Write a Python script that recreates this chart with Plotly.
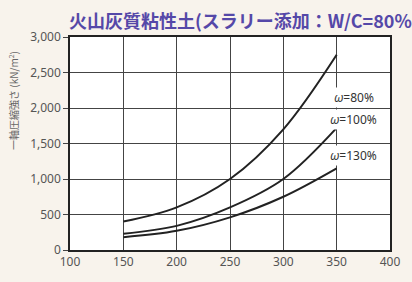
import plotly.graph_objects as go

x_vals = [150, 200, 250, 300, 350]
w80 = [400, 600, 1000, 1700, 2750]
w100 = [230, 340, 600, 1000, 1720]
w130 = [180, 270, 460, 750, 1150]
series_names = ["ω=80%", "ω=100%", "ω=130%"]
label_x = [366, 366, 366]
label_y = [2150, 1840, 1330]
x_ticks = [100, 150, 200, 250, 300, 350, 400]
y_ticks = [0, 500, 1000, 1500, 2000, 2500, 3000]

fig = go.Figure()
for name, ys in zip(series_names, [w80, w100, w130]):
    fig.add_trace(go.Scatter(x=x_vals, y=ys, mode="lines", name=name,
                             line=dict(color="#222222", width=2, shape="spline", smoothing=1.0),
                             showlegend=False, hoverinfo="skip"))

for name, lx, ly in zip(series_names, label_x, label_y):
    fig.add_annotation(x=lx, y=ly, text="<i>ω</i>" + name[1:], showarrow=False,
                       font=dict(family="Noto Sans, Arial", size=12, color="#333333"),
                       bgcolor="white", xanchor="center", yanchor="middle")

fig.update_layout(
    width=412, height=282,
    margin=dict(l=70, r=15, t=37, b=32),
    paper_bgcolor="#f8f3ec", plot_bgcolor="white",
    font=dict(family="Noto Sans CJK JP, Noto Sans", color="#555555"),
)
fig.update_xaxes(range=[100, 400], tickvals=x_ticks, ticktext=[str(t) for t in x_ticks],
                 showgrid=True, gridcolor="#444444", gridwidth=1,
                 showline=True, linecolor="#222222", linewidth=1.5, mirror=True,
                 ticks="", tickfont=dict(size=12, color="#555555", family="Noto Sans"),
                 zeroline=False, fixedrange=True)
fig.update_yaxes(range=[0, 3000], tickvals=y_ticks, ticktext=[f"{t:,}" for t in y_ticks],
                 showgrid=True, gridcolor="#444444", gridwidth=1,
                 showline=True, linecolor="#222222", linewidth=1.5, mirror=True,
                 ticks="outside", ticklen=5, tickcolor="#444444",
                 tickfont=dict(size=12, color="#555555", family="Noto Sans"),
                 zeroline=False, fixedrange=True)

fig.add_annotation(xref="paper", yref="paper", x=-0.008, y=1.08, xanchor="left", yanchor="middle",
                   text="<b>火山灰質粘性土(スラリー添加：W/C=80%</b>", showarrow=False,
                   font=dict(family="Noto Sans CJK JP", size=18, color="#5548a8"))
fig.add_annotation(xref="paper", yref="paper", x=-0.175, y=0.70, xanchor="center", yanchor="middle",
                   text="一軸圧縮強さ (kN/m<sup>2</sup>)", textangle=-90, showarrow=False,
                   font=dict(family="Noto Sans CJK JP", size=10, color="#666666"))
fig.add_annotation(xref="paper", yref="paper", x=0.5, y=-0.15, xanchor="center", yanchor="top",
                   text="固化材添加量 (kg/m<sup>3</sup>)", showarrow=False,
                   font=dict(family="Noto Sans CJK JP", size=10, color="#666666"))

fig.write_html("out.html", config={"displayModeBar": False},
               post_script="document.body.style.margin='0';document.body.style.background='#f8f3ec';")
